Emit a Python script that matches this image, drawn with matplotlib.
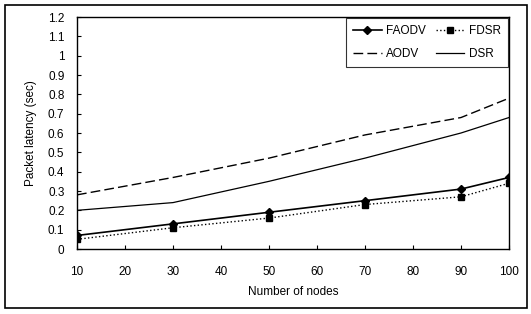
import matplotlib
matplotlib.use('Agg')
import matplotlib.pyplot as plt
from matplotlib.patches import Rectangle

plt.rcParams['font.family'] = ['Liberation Sans', 'DejaVu Sans']

nodes = [10, 30, 50, 70, 90, 100]
faodv = [0.07, 0.13, 0.19, 0.25, 0.31, 0.37]
fdsr = [0.05, 0.11, 0.16, 0.23, 0.27, 0.34]
aodv = [0.28, 0.37, 0.47, 0.59, 0.68, 0.78]
dsr = [0.20, 0.24, 0.35, 0.47, 0.60, 0.68]
xticks = [10, 20, 30, 40, 50, 60, 70, 80, 90, 100]
yticks = [0, 0.1, 0.2, 0.3, 0.4, 0.5, 0.6, 0.7, 0.8, 0.9, 1, 1.1, 1.2]
ylabels = ['0', '0.1', '0.2', '0.3', '0.4', '0.5', '0.6', '0.7', '0.8', '0.9', '1', '1.1', '1.2']

fig = plt.figure(figsize=(5.31, 3.14), dpi=100)
ax = fig.add_axes([77/531, 1-249/314, (509-77)/531, (249-17)/314])

h1, = ax.plot(nodes, faodv, color='black', lw=1.2, marker='D', ms=4, label='FAODV')
h2, = ax.plot(nodes, fdsr, color='black', lw=1.0, ls=':', marker='s', ms=4, label='FDSR')
h3, = ax.plot(nodes, aodv, color='black', lw=1.0, ls=(0, (7, 3)), label='AODV')
h4, = ax.plot(nodes, dsr, color='black', lw=0.9, label='DSR')

ax.set_xlim(10, 100)
ax.set_ylim(0, 1.2)
ax.set_xticks(xticks)
ax.set_yticks(yticks)
ax.set_yticklabels(ylabels)
ax.tick_params(direction='in', length=3, labelsize=8.5, width=0.8)
ax.tick_params(axis='x', pad=12)
ax.tick_params(axis='y', pad=9)
for s in ax.spines.values():
    s.set_linewidth(1.0)

ax.set_xlabel('Number of nodes', fontsize=8.5, labelpad=6)
ax.set_ylabel('Packet latency (sec)', fontsize=8.5, labelpad=8)

# column-wise fill: FAODV/AODV first column, FDSR/DSR second
leg = ax.legend([h1, h3, h2, h4], ['FAODV', 'AODV', 'FDSR', 'DSR'], ncol=2,
                loc='upper right', fontsize=8.5, frameon=True, fancybox=False,
                edgecolor='black', handlelength=2.4, columnspacing=0.8,
                borderaxespad=0.1, handletextpad=0.4, labelspacing=0.9,
                borderpad=0.6)
leg.get_frame().set_linewidth(0.8)

fig.patches.append(Rectangle((5/531, 1-308/314), 522/531, 303/314, transform=fig.transFigure,
                             fill=False, edgecolor='black', lw=1.2))

fig.savefig('out.png', dpi=100)
